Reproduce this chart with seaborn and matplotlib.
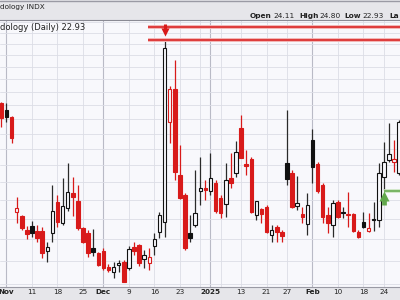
import numpy as np
import pandas as pd
import matplotlib
matplotlib.use("Agg")
import matplotlib.pyplot as plt
import seaborn as sns
from matplotlib.ticker import FixedLocator, NullLocator, NullFormatter

# ---------------- data ----------------
market_holidays = ["2024-11-28", "2024-12-25", "2025-01-01", "2025-01-09",
                   "2025-01-20", "2025-02-17"]
trading_days = pd.bdate_range("2024-11-01", "2025-02-27")
trading_days = trading_days[~trading_days.isin(pd.to_datetime(market_holidays))]

opens = [23.16, 22.66, 22.18, 16.37, 16.16, 15.46, 15.68, 15.41, 15.41, 14.47,
         15.33, 16.92, 15.80, 16.56, 17.41, 16.97, 15.55, 15.33, 14.62, 14.37,
         14.47, 13.76, 13.54, 13.83, 13.98, 13.68, 14.66, 14.74, 14.08, 13.90,
         14.70, 15.35, 15.88, 21.83, 24.24, 18.43, 17.29, 15.30, 15.71, 17.51,
         17.70, 17.51, 17.94, 17.10, 16.78, 18.23, 18.56, 21.42, 19.06, 19.36,
         16.22, 16.52, 16.65, 15.22, 15.63, 15.38, 19.12, 18.56, 16.69, 16.25,
         15.76, 20.60, 19.06, 17.85, 16.22, 15.71, 16.92, 16.38, 16.22, 16.26,
         15.38, 15.88, 15.43, 15.99, 15.96, 18.32, 19.32, 19.22, 18.53]
highs = [23.27, 23.18, 22.23, 17.19, 16.22, 15.66, 15.91, 15.71, 15.63, 14.89,
         17.85, 17.29, 18.25, 19.14, 18.32, 17.85, 15.63, 15.46, 15.49, 14.42,
         14.59, 13.87, 13.98, 14.05, 14.05, 14.69, 14.89, 14.78, 14.50, 14.58,
         15.30, 16.38, 28.27, 24.47, 26.58, 20.28, 17.40, 16.22, 18.72, 19.53,
         18.13, 19.74, 18.13, 17.29, 19.12, 19.74, 20.54, 22.31, 19.95, 19.53,
         16.96, 16.58, 16.74, 15.71, 15.71, 15.46, 22.66, 18.72, 18.37, 16.65,
         17.38, 21.33, 19.22, 17.94, 16.65, 17.01, 17.01, 16.65, 17.47, 16.32,
         15.46, 16.38, 16.30, 16.92, 19.12, 20.49, 21.72, 20.60, 21.95]
lows = [21.49, 21.83, 20.42, 15.80, 15.46, 15.02, 15.13, 14.89, 14.13, 13.95,
        14.89, 15.63, 15.71, 16.42, 16.16, 15.46, 14.81, 14.20, 14.23, 13.79,
        13.61, 13.52, 13.25, 13.54, 13.08, 13.61, 14.28, 13.79, 13.68, 13.61,
        14.28, 15.05, 15.13, 20.39, 18.13, 17.05, 14.50, 14.89, 15.63, 16.74,
        17.01, 17.29, 16.30, 16.05, 16.13, 17.66, 18.32, 19.43, 18.43, 16.30,
        15.96, 15.80, 15.31, 14.89, 14.89, 14.89, 17.85, 16.56, 16.47, 15.80,
        15.22, 17.94, 17.38, 15.80, 15.33, 15.13, 16.05, 16.05, 15.63, 15.36,
        15.05, 15.55, 15.36, 15.43, 15.63, 17.56, 19.22, 18.62, 18.43]
closes = [22.07, 22.18, 20.71, 16.58, 15.55, 15.25, 15.29, 15.05, 14.38, 14.63,
          16.43, 15.88, 16.69, 17.47, 17.16, 15.55, 14.89, 14.38, 14.41, 13.83,
          13.68, 13.61, 13.76, 13.90, 13.11, 14.53, 14.48, 13.90, 14.28, 14.17,
          15.02, 16.22, 27.59, 24.24, 18.62, 17.10, 14.58, 15.05, 16.30, 17.69,
          17.59, 18.23, 16.42, 16.33, 18.13, 17.98, 19.81, 19.46, 18.96, 16.38,
          16.96, 16.27, 15.38, 15.46, 15.35, 15.17, 18.19, 16.65, 16.86, 16.13,
          16.74, 18.88, 17.52, 16.10, 15.80, 16.83, 16.13, 16.30, 16.27, 15.43,
          15.10, 15.63, 15.57, 15.94, 18.53, 19.22, 19.68, 19.36, 21.83]

tick_dates = ["2024-11-04", "2024-11-11", "2024-11-18", "2024-11-25",
              "2024-12-02", "2024-12-09", "2024-12-16", "2024-12-23",
              "2024-12-30", "2025-01-02", "2025-01-06", "2025-01-13",
              "2025-01-21", "2025-01-27", "2025-02-03", "2025-02-10",
              "2025-02-18", "2025-02-24"]
tick_labels = ["Nov", "11", "18", "25", "Dec", "9", "16", "23", "", "2025", "",
               "13", "21", "27", "Feb", "10", "18", "24"]
month_labels = ["Nov", "Dec", "2025", "Feb"]

resistance_levels = [29.56, 28.30]
resistance_start = "2024-12-13"
signal_down_date = "2024-12-18"
support_level = 17.53
signal_up_date = "2025-02-24"

header_left = "dology INDX"
chart_title = "dology (Daily) 22.93"
header_right = [("Open", True), ("24.11", False), ("High", True), ("24.80", False),
                ("Low", True), ("22.93", False), ("La", True)]

# ---------------- style ----------------
sns.set_style("whitegrid")
plt.rcParams["font.family"] = ["DejaVu Sans"]

RED = "#d81a1a"
BLACK = "#111111"
GREEN = "#62a84c"
PLOT_BG = "#f8f8fc"
FRAME_BG = "#e6e6ea"
GRID = "#dcdde6"
MONTH_GRID = "#b9bac6"
TXT = "#222222"

df = pd.DataFrame({"date": trading_days, "open": opens, "high": highs,
                   "low": lows, "close": closes})
df["pos"] = np.arange(len(df))
prev_close = df["close"].shift(1)
up_day = df["close"] > prev_close
up_day.iloc[0] = df["close"].iloc[0] > df["open"].iloc[0]
df["color"] = np.where(up_day, BLACK, RED)
df["hollow"] = df["close"] > df["open"]
df["face"] = np.where(df["hollow"], PLOT_BG, df["color"])
df["body_lo"] = df[["open", "close"]].min(axis=1)
df["body_hi"] = df[["open", "close"]].max(axis=1)
df["wick_color"] = np.where(up_day, "#2a2a2a", RED)

pos_of = {d: p for d, p in zip(df["date"], df["pos"])}
tick_pos = [pos_of[pd.Timestamp(d)] for d in tick_dates]

W, H = 400, 300
fig = plt.figure(figsize=(4, 3), dpi=100, facecolor=FRAME_BG)
ax = fig.add_axes([0, 13 / H, 1, 267 / H])
ax.set_facecolor(PLOT_BG)
ax.set_yscale("log")
ax.set_ylim(12.89, 30.20)
ax.set_xlim(-0.2745, 78.157)

ax.yaxis.set_major_locator(FixedLocator(list(range(13, 31))))
ax.yaxis.set_minor_locator(NullLocator())
ax.yaxis.set_major_formatter(NullFormatter())
ax.yaxis.set_minor_formatter(NullFormatter())
ax.grid(False)
ax.grid(axis="y", color=GRID, lw=0.6, zorder=0)
ax.set_axisbelow(True)

for p, lab in zip(tick_pos, tick_labels):
    is_month = lab in month_labels
    ax.axvline(p, color=MONTH_GRID if is_month else GRID,
               lw=0.8 if is_month else 0.6, zorder=0.5)

ax.set_xticks(tick_pos)
ax.set_xticklabels(tick_labels)
for t in ax.get_xticklabels():
    if t.get_text() in month_labels:
        t.set_fontweight("bold")
ax.tick_params(axis="x", length=0, pad=1.6, labelsize=5.2, colors=TXT)
ax.tick_params(axis="y", length=0, labelleft=False, labelright=False)
for s in ["left", "right"]:
    ax.spines[s].set_visible(False)
ax.spines["top"].set_color("#8a8a94")
ax.spines["top"].set_linewidth(0.8)
ax.spines["bottom"].set_color("#9a9aa4")
ax.spines["bottom"].set_linewidth(0.8)

# wicks and bodies
ax.vlines(df["pos"], df["low"], df["high"], colors=df["wick_color"], lw=0.9, zorder=2)
ax.bar(df["pos"], df["body_hi"] - df["body_lo"], bottom=df["body_lo"], width=0.7,
       color=df["face"], edgecolor=df["color"], linewidth=0.8, zorder=3)

# annotations: resistance lines, arrows, support line
x_res = pos_of[pd.Timestamp(resistance_start)] - 0.25
ax.hlines(resistance_levels, x_res, 90, colors="#f2b3b3", lw=2.8, zorder=4)
ax.hlines(resistance_levels, x_res, 90, colors=RED, lw=1.1, zorder=5)

p_dn = pos_of[pd.Timestamp(signal_down_date)]
ax.vlines(p_dn, 29.30, 29.85, colors=RED, lw=2.2, zorder=6)
sns.scatterplot(x=[p_dn], y=[29.11], marker="v", s=34, color=RED,
                linewidth=0, ax=ax, zorder=6, legend=False)

p_up = pos_of[pd.Timestamp(signal_up_date)]
ax.hlines(support_level, p_up, 90, colors="#c9e3bf", lw=2.6, zorder=4)
ax.hlines(support_level, p_up, 90, colors=GREEN, lw=1.1, zorder=5)
ax.vlines(p_up, 16.74, 17.10, colors=GREEN, lw=3.4, zorder=6)
sns.scatterplot(x=[p_up], y=[17.22], marker="^", s=52, color=GREEN,
                linewidth=0, ax=ax, zorder=6, legend=False)
ax.set_xlabel("")
ax.set_ylabel("")

# texts
fig.text(0 / W, 1 - 7 / H, header_left, fontsize=5.2, color=TXT, va="center", ha="left")
fig.text(0 / W, 1 - 27 / H, chart_title, fontsize=6.0, color=TXT, va="center", ha="left")
xs = [250, 273, 299, 319, 344, 362, 389]
for x, (txt, bold) in zip(xs, header_right):
    fig.text(x / W, 1 - 16 / H, txt, fontsize=5.3, color=TXT, va="center", ha="left",
             fontweight="bold" if bold else "normal")
fig.add_artist(plt.Line2D([0, 1], [1 - 0.5 / H, 1 - 0.5 / H], color="#9a9aa4", lw=1.0))

fig.savefig("out.png", dpi=100, facecolor=FRAME_BG)
